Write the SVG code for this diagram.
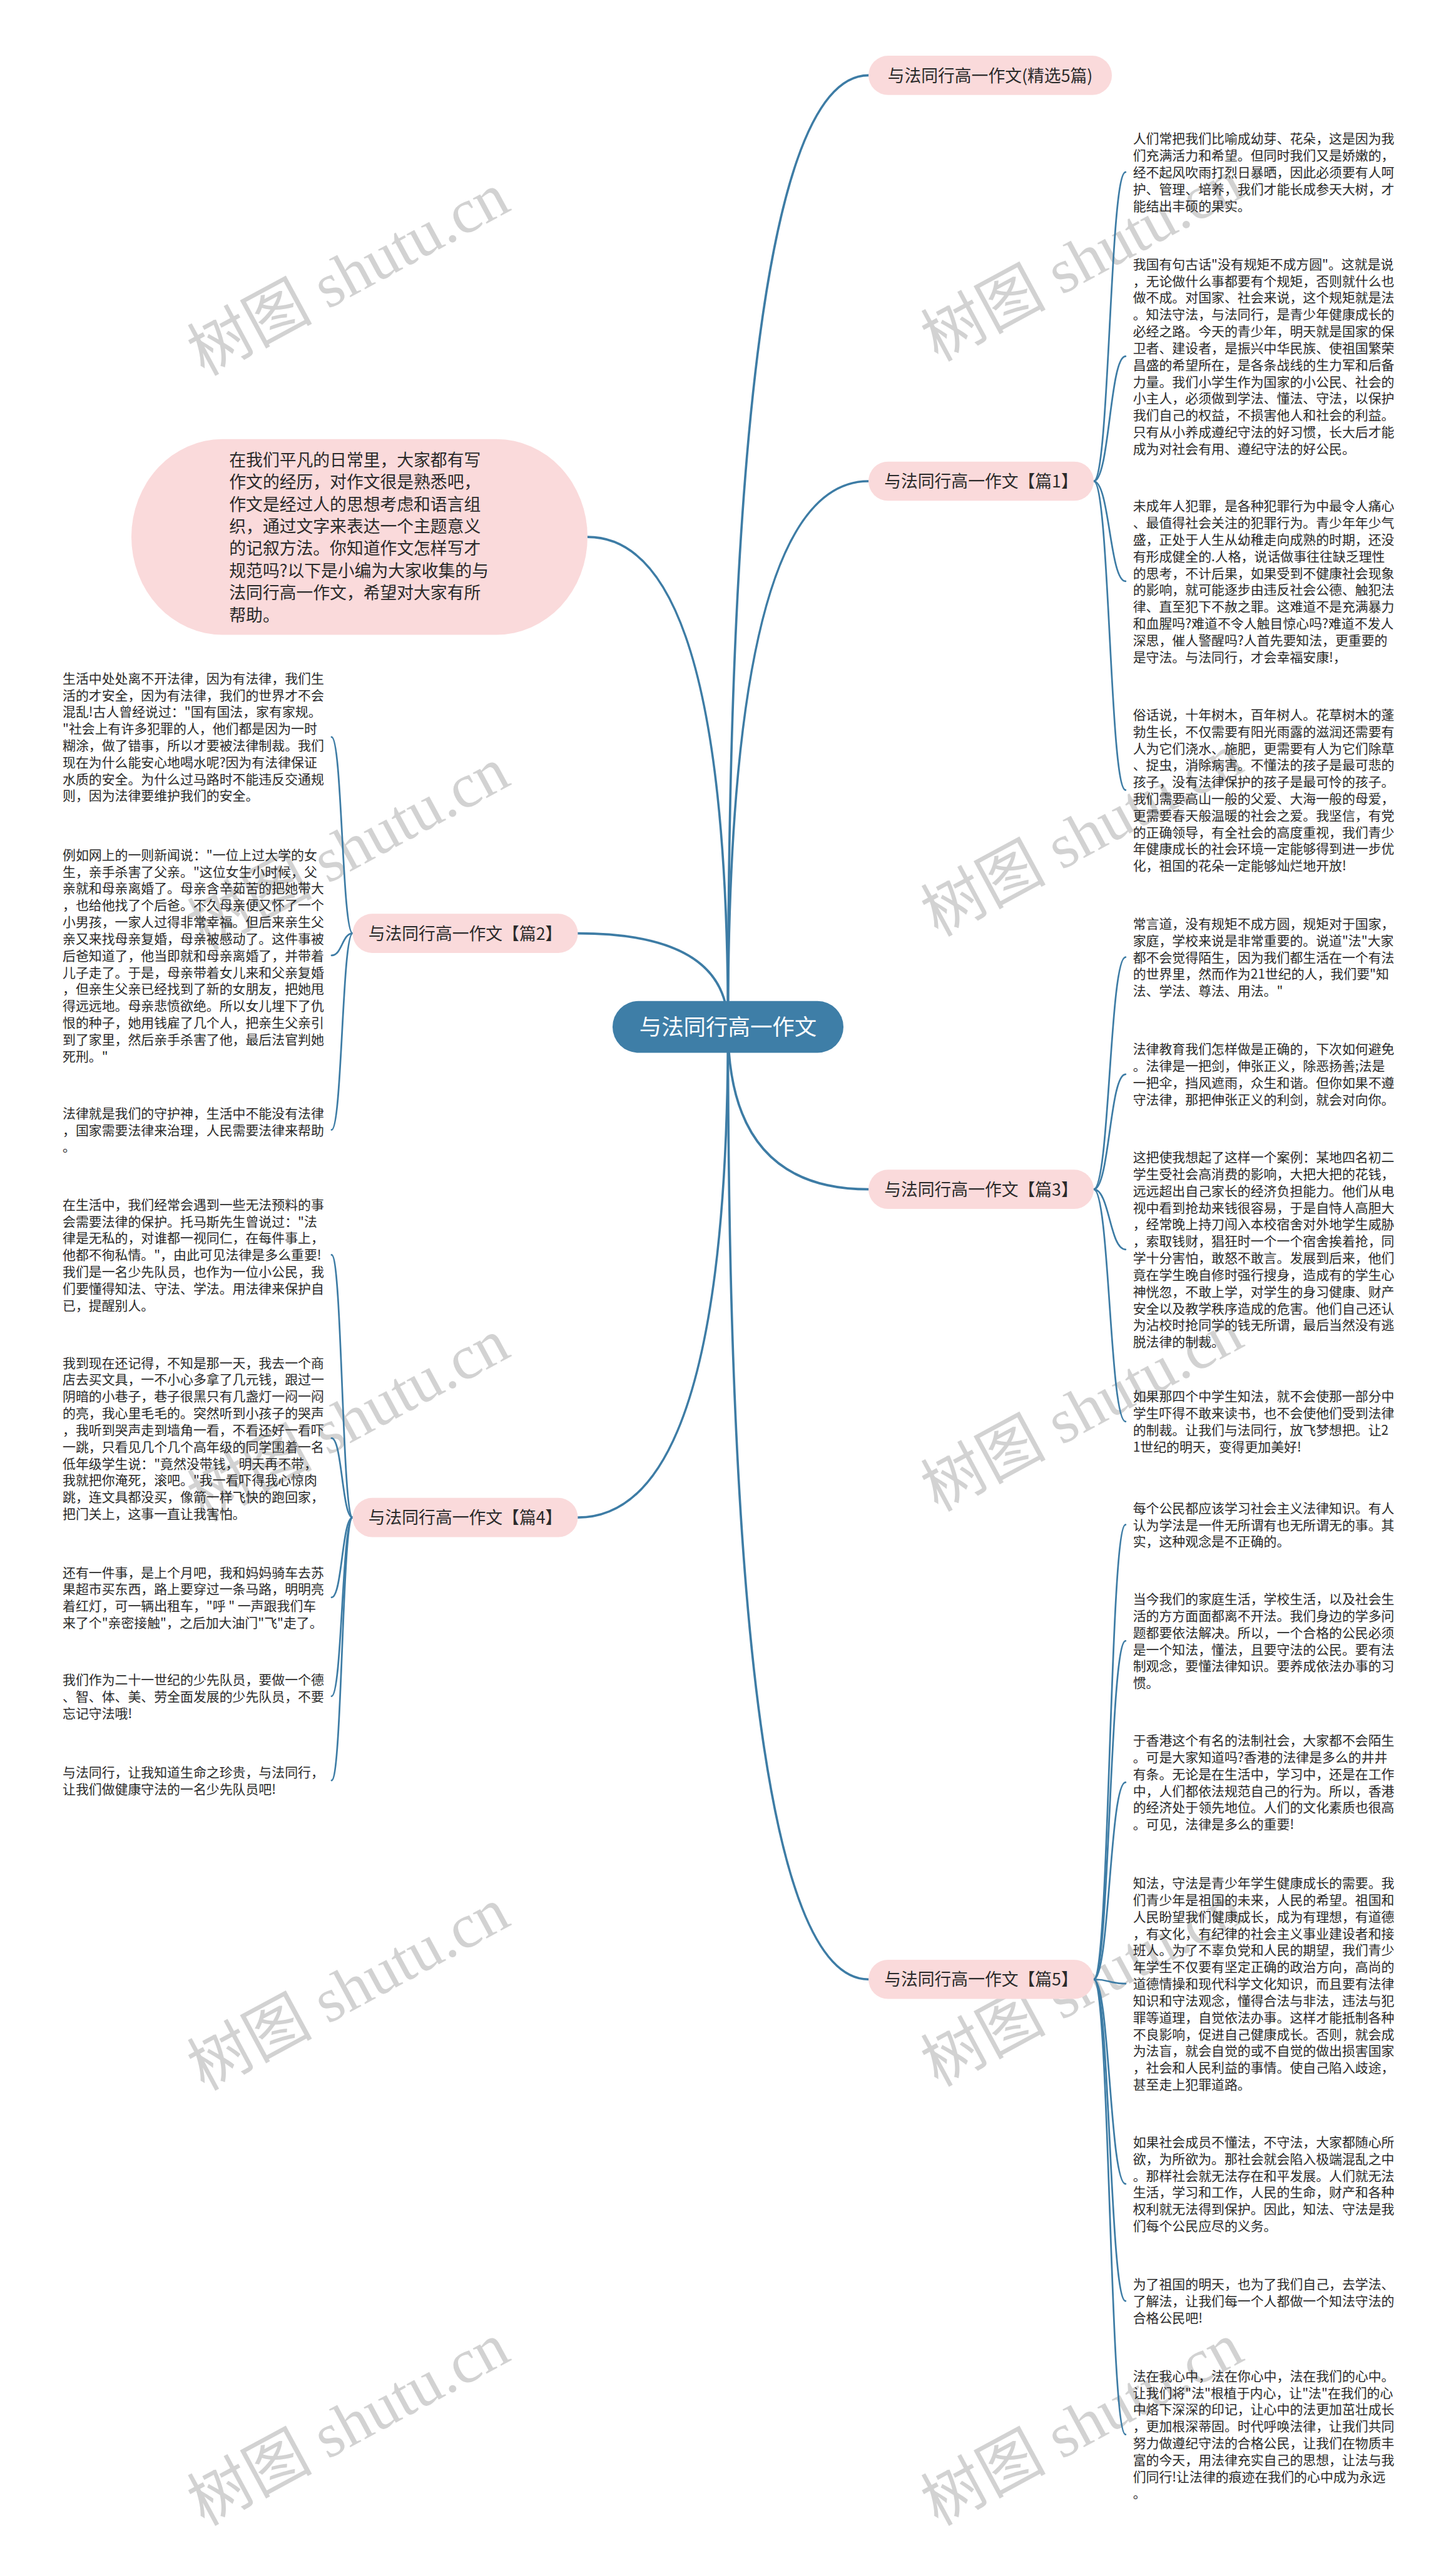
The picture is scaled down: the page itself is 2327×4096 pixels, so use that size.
<svg xmlns="http://www.w3.org/2000/svg" width="2327" height="4096" viewBox="0 0 2327 4096">
<defs>
<style>
.t{font-family:"Noto Sans CJK SC","Liberation Sans",sans-serif;font-size:23px;fill:#2a2a2a}
.lb{font-family:"Noto Sans CJK SC","Liberation Sans",sans-serif;font-size:29.5px;fill:#2a2a2a;text-anchor:middle}
.bt{font-family:"Noto Sans CJK SC","Liberation Sans",sans-serif;font-size:29.5px;fill:#2a2a2a}
.ct{font-family:"Noto Sans CJK SC","Liberation Sans",sans-serif;font-size:39px;fill:#ffffff;text-anchor:middle}
.pill{fill:#fadadb}
.root{stroke:#3d7ca5;stroke-width:4;fill:none;stroke-linecap:round}
.br{stroke:#3d7ca5;stroke-width:3;fill:none;stroke-linecap:round}
.wm{font-family:"Liberation Serif","Noto Sans CJK SC",serif;font-size:110px;fill:#d2d2d2;text-anchor:middle}
</style>
</defs>
<rect width="2327" height="4096" fill="#ffffff"/>
<g transform="scale(0.90898)">
<g id="watermarks">
<text class="wm" transform="translate(630,515) rotate(-28.4)">树图 shutu.cn</text>
<text class="wm" transform="translate(1920,490) rotate(-28.4)">树图 shutu.cn</text>
<text class="wm" transform="translate(630,1525) rotate(-28.4)">树图 shutu.cn</text>
<text class="wm" transform="translate(1920,1501) rotate(-28.4)">树图 shutu.cn</text>
<text class="wm" transform="translate(630,2530) rotate(-28.4)">树图 shutu.cn</text>
<text class="wm" transform="translate(1920,2512) rotate(-28.4)">树图 shutu.cn</text>
<text class="wm" transform="translate(630,3530) rotate(-28.4)">树图 shutu.cn</text>
<text class="wm" transform="translate(1920,3523) rotate(-28.4)">树图 shutu.cn</text>
<text class="wm" transform="translate(630,4295) rotate(-28.4)">树图 shutu.cn</text>
<text class="wm" transform="translate(1920,4295) rotate(-28.4)">树图 shutu.cn</text>
</g>
<g id="connectors">
<path class="root" d="M1280,1805 Q1280,132.5 1527,132.5"/>
<path class="root" d="M1280,1805 Q1280,846 1527,846"/>
<path class="root" d="M1280,1805 Q1280,2091 1527,2091"/>
<path class="root" d="M1280,1805 Q1280,3480 1527,3480"/>
<path class="root" d="M1280,1805 Q1280,944 1033,944"/>
<path class="root" d="M1280,1805 Q1280,1641 1016,1641"/>
<path class="root" d="M1280,1805 Q1280,2668 1016,2668"/>
<path class="br" d="M1923,846 C1951,846 1951,302.6 1979,302.6"/>
<path class="br" d="M1923,846 C1951,846 1951,626.5 1979,626.5"/>
<path class="br" d="M1923,846 C1951,846 1951,1022 1979,1022"/>
<path class="br" d="M1923,846 C1951,846 1951,1389 1979,1389"/>
<path class="br" d="M1923,2091 C1951,2091 1951,1682.8 1979,1682.8"/>
<path class="br" d="M1923,2091 C1951,2091 1951,1888.7 1979,1888.7"/>
<path class="br" d="M1923,2091 C1951,2091 1951,2196.8 1979,2196.8"/>
<path class="br" d="M1923,2091 C1951,2091 1951,2499.3 1979,2499.3"/>
<path class="br" d="M1923,3480 C1951,3480 1951,2680.7 1979,2680.7"/>
<path class="br" d="M1923,3480 C1951,3480 1951,2884.9 1979,2884.9"/>
<path class="br" d="M1923,3480 C1951,3480 1951,3133.6 1979,3133.6"/>
<path class="br" d="M1923,3480 C1951,3480 1951,3487.6 1979,3487.6"/>
<path class="br" d="M1923,3480 C1951,3480 1951,3839.7 1979,3839.7"/>
<path class="br" d="M1923,3480 C1951,3480 1951,4045.6 1979,4045.6"/>
<path class="br" d="M1923,3480 C1951,3480 1951,4280.3 1979,4280.3"/>
<path class="br" d="M620,1641 C601.5,1641 601.5,1295.7 583,1295.7"/>
<path class="br" d="M620,1641 C601.5,1641 601.5,1679.7 583,1679.7"/>
<path class="br" d="M620,1641 C601.5,1641 601.5,1986.5 583,1986.5"/>
<path class="br" d="M620,2668 C601.5,2668 601.5,2206.2 583,2206.2"/>
<path class="br" d="M620,2668 C601.5,2668 601.5,2528.6 583,2528.6"/>
<path class="br" d="M620,2668 C601.5,2668 601.5,2808.5 583,2808.5"/>
<path class="br" d="M620,2668 C601.5,2668 601.5,2982.3 583,2982.3"/>
<path class="br" d="M620,2668 C601.5,2668 601.5,3130.2 583,3130.2"/>
</g>
<g id="root">
<rect x="1077" y="1760" width="406" height="91" rx="45.5" fill="#3e7ea7"/>
<text class="ct" x="1280" y="1820">与法同行高一作文</text>
</g>
<g id="b0">
<rect class="pill" x="1527" y="98" width="428" height="69" rx="34.5"/>
<text class="lb" x="1741" y="143.7">与法同行高一作文(精选5篇)</text>
</g>
<g id="intro">
<rect class="pill" x="231" y="772" width="802" height="344" rx="160" ry="172"/>
<text class="bt" x="403" y="819.2"><tspan x="403">在我们平凡的日常里，大家都有写</tspan><tspan x="403" dy="39">作文的经历，对作文很是熟悉吧，</tspan><tspan x="403" dy="39">作文是经过人的思想考虑和语言组</tspan><tspan x="403" dy="39">织，通过文字来表达一个主题意义</tspan><tspan x="403" dy="39">的记叙方法。你知道作文怎样写才</tspan><tspan x="403" dy="39">规范吗?以下是小编为大家收集的与</tspan><tspan x="403" dy="39">法同行高一作文，希望对大家有所</tspan><tspan x="403" dy="39">帮助。</tspan></text>
</g>
<g id="b1">
<rect class="pill" x="1527" y="811.5" width="396" height="69" rx="34.5"/>
<text class="lb" x="1725" y="857.2">与法同行高一作文【篇1】</text>
</g>
<g id="b3">
<rect class="pill" x="1527" y="2056.5" width="396" height="69" rx="34.5"/>
<text class="lb" x="1725" y="2102.2">与法同行高一作文【篇3】</text>
</g>
<g id="b5">
<rect class="pill" x="1527" y="3445.5" width="396" height="69" rx="34.5"/>
<text class="lb" x="1725" y="3491.2">与法同行高一作文【篇5】</text>
</g>
<g id="b2">
<rect class="pill" x="620" y="1606.5" width="396" height="69" rx="34.5"/>
<text class="lb" x="818" y="1652.2">与法同行高一作文【篇2】</text>
</g>
<g id="b4">
<rect class="pill" x="620" y="2633.5" width="396" height="69" rx="34.5"/>
<text class="lb" x="818" y="2679.2">与法同行高一作文【篇4】</text>
</g>
<g id="r1"><text class="t" y="252.3"><tspan x="1992">人们常把我们比喻成幼芽、花朵，这是因为我</tspan><tspan x="1992" dy="29.5">们充满活力和希望。但同时我们又是娇嫩的，</tspan><tspan x="1992" dy="29.5">经不起风吹雨打烈日暴晒，因此必须要有人呵</tspan><tspan x="1992" dy="29.5">护、管理、培养，我们才能长成参天大树，才</tspan><tspan x="1992" dy="29.5">能结出丰硕的果实。</tspan></text></g>
<g id="r2"><text class="t" y="472.9"><tspan x="1992">我国有句古话"没有规矩不成方圆"。这就是说</tspan><tspan x="1992" dy="29.5">，无论做什么事都要有个规矩，否则就什么也</tspan><tspan x="1992" dy="29.5">做不成。对国家、社会来说，这个规矩就是法</tspan><tspan x="1992" dy="29.5">。知法守法，与法同行，是青少年健康成长的</tspan><tspan x="1992" dy="29.5">必经之路。今天的青少年，明天就是国家的保</tspan><tspan x="1992" dy="29.5">卫者、建设者，是振兴中华民族、使祖国繁荣</tspan><tspan x="1992" dy="29.5">昌盛的希望所在，是各条战线的生力军和后备</tspan><tspan x="1992" dy="29.5">力量。我们小学生作为国家的小公民、社会的</tspan><tspan x="1992" dy="29.5">小主人，必须做到学法、懂法、守法，以保护</tspan><tspan x="1992" dy="29.5">我们自己的权益，不损害他人和社会的利益。</tspan><tspan x="1992" dy="29.5">只有从小养成遵纪守法的好习惯，长大后才能</tspan><tspan x="1992" dy="29.5">成为对社会有用、遵纪守法的好公民。</tspan></text></g>
<g id="r3"><text class="t" y="898"><tspan x="1992">未成年人犯罪，是各种犯罪行为中最令人痛心</tspan><tspan x="1992" dy="29.5">、最值得社会关注的犯罪行为。青少年年少气</tspan><tspan x="1992" dy="29.5">盛，正处于人生从幼稚走向成熟的时期，还没</tspan><tspan x="1992" dy="29.5">有形成健全的.人格，说话做事往往缺乏理性</tspan><tspan x="1992" dy="29.5">的思考，不计后果，如果受到不健康社会现象</tspan><tspan x="1992" dy="29.5">的影响，就可能逐步由违反社会公德、触犯法</tspan><tspan x="1992" dy="29.5">律、直至犯下不赦之罪。这难道不是充满暴力</tspan><tspan x="1992" dy="29.5">和血腥吗?难道不令人触目惊心吗?难道不发人</tspan><tspan x="1992" dy="29.5">深思，催人警醒吗?人首先要知法，更重要的</tspan><tspan x="1992" dy="29.5">是守法。与法同行，才会幸福安康!，</tspan></text></g>
<g id="r4"><text class="t" y="1265.1"><tspan x="1992">俗话说，十年树木，百年树人。花草树木的蓬</tspan><tspan x="1992" dy="29.5">勃生长，不仅需要有阳光雨露的滋润还需要有</tspan><tspan x="1992" dy="29.5">人为它们浇水、施肥，更需要有人为它们除草</tspan><tspan x="1992" dy="29.5">、捉虫，消除病害。不懂法的孩子是最可悲的</tspan><tspan x="1992" dy="29.5">孩子，没有法律保护的孩子是最可怜的孩子。</tspan><tspan x="1992" dy="29.5">我们需要高山一般的父爱、大海一般的母爱，</tspan><tspan x="1992" dy="29.5">更需要春天般温暖的社会之爱。我坚信，有党</tspan><tspan x="1992" dy="29.5">的正确领导，有全社会的高度重视，我们青少</tspan><tspan x="1992" dy="29.5">年健康成长的社会环境一定能够得到进一步优</tspan><tspan x="1992" dy="29.5">化，祖国的花朵一定能够灿烂地开放!</tspan></text></g>
<g id="r5"><text class="t" y="1632.5"><tspan x="1992">常言道，没有规矩不成方圆，规矩对于国家，</tspan><tspan x="1992" dy="29.5">家庭，学校来说是非常重要的。说道"法"大家</tspan><tspan x="1992" dy="29.5">都不会觉得陌生，因为我们都生活在一个有法</tspan><tspan x="1992" dy="29.5">的世界里，然而作为21世纪的人，我们要"知</tspan><tspan x="1992" dy="29.5">法、学法、尊法、用法。"</tspan></text></g>
<g id="r6"><text class="t" y="1853.1"><tspan x="1992">法律教育我们怎样做是正确的，下次如何避免</tspan><tspan x="1992" dy="29.5">。法律是一把剑，伸张正义，除恶扬善;法是</tspan><tspan x="1992" dy="29.5">一把伞，挡风遮雨，众生和谐。但你如果不遵</tspan><tspan x="1992" dy="29.5">守法律，那把伸张正义的利剑，就会对向你。</tspan></text></g>
<g id="r7"><text class="t" y="2043.2"><tspan x="1992">这把使我想起了这样一个案例：某地四名初二</tspan><tspan x="1992" dy="29.5">学生受社会高消费的影响，大把大把的花钱，</tspan><tspan x="1992" dy="29.5">远远超出自己家长的经济负担能力。他们从电</tspan><tspan x="1992" dy="29.5">视中看到抢劫来钱很容易，于是自恃人高胆大</tspan><tspan x="1992" dy="29.5">，经常晚上持刀闯入本校宿舍对外地学生威胁</tspan><tspan x="1992" dy="29.5">，索取钱财，猖狂时一个一个宿舍挨着抢，同</tspan><tspan x="1992" dy="29.5">学十分害怕，敢怒不敢言。发展到后来，他们</tspan><tspan x="1992" dy="29.5">竟在学生晚自修时强行搜身，造成有的学生心</tspan><tspan x="1992" dy="29.5">神恍忽，不敢上学，对学生的身习健康、财产</tspan><tspan x="1992" dy="29.5">安全以及教学秩序造成的危害。他们自己还认</tspan><tspan x="1992" dy="29.5">为沾校时抢同学的钱无所谓，最后当然没有逃</tspan><tspan x="1992" dy="29.5">脱法律的制裁。</tspan></text></g>
<g id="r8"><text class="t" y="2463.7"><tspan x="1992">如果那四个中学生知法，就不会使那一部分中</tspan><tspan x="1992" dy="29.5">学生吓得不敢来读书，也不会使他们受到法律</tspan><tspan x="1992" dy="29.5">的制裁。让我们与法同行，放飞梦想把。让2</tspan><tspan x="1992" dy="29.5">1世纪的明天，变得更加美好!</tspan></text></g>
<g id="r9"><text class="t" y="2659.9"><tspan x="1992">每个公民都应该学习社会主义法律知识。有人</tspan><tspan x="1992" dy="29.5">认为学法是一件无所谓有也无所谓无的事。其</tspan><tspan x="1992" dy="29.5">实，这种观念是不正确的。</tspan></text></g>
<g id="r10"><text class="t" y="2819.8"><tspan x="1992">当今我们的家庭生活，学校生活，以及社会生</tspan><tspan x="1992" dy="29.5">活的方方面面都离不开法。我们身边的学多问</tspan><tspan x="1992" dy="29.5">题都要依法解决。所以，一个合格的公民必须</tspan><tspan x="1992" dy="29.5">是一个知法，懂法，且要守法的公民。要有法</tspan><tspan x="1992" dy="29.5">制观念，要懂法律知识。要养成依法办事的习</tspan><tspan x="1992" dy="29.5">惯。</tspan></text></g>
<g id="r11"><text class="t" y="3068.5"><tspan x="1992">于香港这个有名的法制社会，大家都不会陌生</tspan><tspan x="1992" dy="29.5">。可是大家知道吗?香港的法律是多么的井井</tspan><tspan x="1992" dy="29.5">有条。无论是在生活中，学习中，还是在工作</tspan><tspan x="1992" dy="29.5">中，人们都依法规范自己的行为。所以，香港</tspan><tspan x="1992" dy="29.5">的经济处于领先地位。人们的文化素质也很高</tspan><tspan x="1992" dy="29.5">。可见，法律是多么的重要!</tspan></text></g>
<g id="r12"><text class="t" y="3319.3"><tspan x="1992">知法，守法是青少年学生健康成长的需要。我</tspan><tspan x="1992" dy="29.5">们青少年是祖国的未来，人民的希望。祖国和</tspan><tspan x="1992" dy="29.5">人民盼望我们健康成长，成为有理想，有道德</tspan><tspan x="1992" dy="29.5">，有文化，有纪律的社会主义事业建设者和接</tspan><tspan x="1992" dy="29.5">班人。为了不辜负党和人民的期望，我们青少</tspan><tspan x="1992" dy="29.5">年学生不仅要有坚定正确的政治方向，高尚的</tspan><tspan x="1992" dy="29.5">道德情操和现代科学文化知识，而且要有法律</tspan><tspan x="1992" dy="29.5">知识和守法观念，懂得合法与非法，违法与犯</tspan><tspan x="1992" dy="29.5">罪等道理，自觉依法办事。这样才能抵制各种</tspan><tspan x="1992" dy="29.5">不良影响，促进自己健康成长。否则，就会成</tspan><tspan x="1992" dy="29.5">为法盲，就会自觉的或不自觉的做出损害国家</tspan><tspan x="1992" dy="29.5">，社会和人民利益的事情。使自己陷入歧途，</tspan><tspan x="1992" dy="29.5">甚至走上犯罪道路。</tspan></text></g>
<g id="r13"><text class="t" y="3774.6"><tspan x="1992">如果社会成员不懂法，不守法，大家都随心所</tspan><tspan x="1992" dy="29.5">欲，为所欲为。那社会就会陷入极端混乱之中</tspan><tspan x="1992" dy="29.5">。那样社会就无法存在和平发展。人们就无法</tspan><tspan x="1992" dy="29.5">生活，学习和工作，人民的生命，财产和各种</tspan><tspan x="1992" dy="29.5">权利就无法得到保护。因此，知法、守法是我</tspan><tspan x="1992" dy="29.5">们每个公民应尽的义务。</tspan></text></g>
<g id="r14"><text class="t" y="4024.8"><tspan x="1992">为了祖国的明天，也为了我们自己，去学法、</tspan><tspan x="1992" dy="29.5">了解法，让我们每一个人都做一个知法守法的</tspan><tspan x="1992" dy="29.5">合格公民吧!</tspan></text></g>
<g id="r15"><text class="t" y="4185.7"><tspan x="1992">法在我心中，法在你心中，法在我们的心中。</tspan><tspan x="1992" dy="29.5">让我们将"法"根植于内心，让"法"在我们的心</tspan><tspan x="1992" dy="29.5">中烙下深深的印记，让心中的法更加茁壮成长</tspan><tspan x="1992" dy="29.5">，更加根深蒂固。时代呼唤法律，让我们共同</tspan><tspan x="1992" dy="29.5">努力做遵纪守法的合格公民，让我们在物质丰</tspan><tspan x="1992" dy="29.5">富的今天，用法律充实自己的思想，让法与我</tspan><tspan x="1992" dy="29.5">们同行!让法律的痕迹在我们的心中成为永远</tspan><tspan x="1992" dy="29.5">。</tspan></text></g>
<g id="l1"><text class="t" y="1201.1"><tspan x="110">生活中处处离不开法律，因为有法律，我们生</tspan><tspan x="110" dy="29.5">活的才安全，因为有法律，我们的世界才不会</tspan><tspan x="110" dy="29.5">混乱!古人曾经说过："国有国法，家有家规。</tspan><tspan x="110" dy="29.5">"社会上有许多犯罪的人，他们都是因为一时</tspan><tspan x="110" dy="29.5">糊涂，做了错事，所以才要被法律制裁。我们</tspan><tspan x="110" dy="29.5">现在为什么能安心地喝水呢?因为有法律保证</tspan><tspan x="110" dy="29.5">水质的安全。为什么过马路时不能违反交通规</tspan><tspan x="110" dy="29.5">则，因为法律要维护我们的安全。</tspan></text></g>
<g id="l2"><text class="t" y="1511.4"><tspan x="110">例如网上的一则新闻说："一位上过大学的女</tspan><tspan x="110" dy="29.5">生，亲手杀害了父亲。"这位女生小时候，父</tspan><tspan x="110" dy="29.5">亲就和母亲离婚了。母亲含辛茹苦的把她带大</tspan><tspan x="110" dy="29.5">，也给他找了个后爸。不久母亲便又怀了一个</tspan><tspan x="110" dy="29.5">小男孩，一家人过得非常幸福。但后来亲生父</tspan><tspan x="110" dy="29.5">亲又来找母亲复婚，母亲被感动了。这件事被</tspan><tspan x="110" dy="29.5">后爸知道了，他当即就和母亲离婚了，并带着</tspan><tspan x="110" dy="29.5">儿子走了。于是，母亲带着女儿来和父亲复婚</tspan><tspan x="110" dy="29.5">，但亲生父亲已经找到了新的女朋友，把她甩</tspan><tspan x="110" dy="29.5">得远远地。母亲悲愤欲绝。所以女儿埋下了仇</tspan><tspan x="110" dy="29.5">恨的种子，她用钱雇了几个人，把亲生父亲引</tspan><tspan x="110" dy="29.5">到了家里，然后亲手杀害了他，最后法官判她</tspan><tspan x="110" dy="29.5">死刑。"</tspan></text></g>
<g id="l3"><text class="t" y="1965.7"><tspan x="110">法律就是我们的守护神，生活中不能没有法律</tspan><tspan x="110" dy="29.5">，国家需要法律来治理，人民需要法律来帮助</tspan><tspan x="110" dy="29.5">。</tspan></text></g>
<g id="l4"><text class="t" y="2126.4"><tspan x="110">在生活中，我们经常会遇到一些无法预料的事</tspan><tspan x="110" dy="29.5">会需要法律的保护。托马斯先生曾说过："法</tspan><tspan x="110" dy="29.5">律是无私的，对谁都一视同仁，在每件事上，</tspan><tspan x="110" dy="29.5">他都不徇私情。"，由此可见法律是多么重要!</tspan><tspan x="110" dy="29.5">我们是一名少先队员，也作为一位小公民，我</tspan><tspan x="110" dy="29.5">们要懂得知法、守法、学法。用法律来保护自</tspan><tspan x="110" dy="29.5">已，提醒别人。</tspan></text></g>
<g id="l5"><text class="t" y="2404.5"><tspan x="110">我到现在还记得，不知是那一天，我去一个商</tspan><tspan x="110" dy="29.5">店去买文具，一不小心多拿了几元钱，跟过一</tspan><tspan x="110" dy="29.5">阴暗的小巷子，巷子很黑只有几盏灯一闷一闷</tspan><tspan x="110" dy="29.5">的亮，我心里毛毛的。突然听到小孩子的哭声</tspan><tspan x="110" dy="29.5">，我听到哭声走到墙角一看，不看还好一看吓</tspan><tspan x="110" dy="29.5">一跳，只看见几个几个高年级的同学围着一名</tspan><tspan x="110" dy="29.5">低年级学生说："竟然没带钱，明天再不带，</tspan><tspan x="110" dy="29.5">我就把你淹死，滚吧。"我一看吓得我心惊肉</tspan><tspan x="110" dy="29.5">跳，连文具都没买，像箭一样飞快的跑回家，</tspan><tspan x="110" dy="29.5">把门关上，这事一直让我害怕。</tspan></text></g>
<g id="l6"><text class="t" y="2772.9"><tspan x="110">还有一件事，是上个月吧，我和妈妈骑车去苏</tspan><tspan x="110" dy="29.5">果超市买东西，路上要穿过一条马路，明明亮</tspan><tspan x="110" dy="29.5">着红灯，可一辆出租车，"呼 " 一声跟我们车</tspan><tspan x="110" dy="29.5">来了个"亲密接触"，之后加大油门"飞"走了。</tspan></text></g>
<g id="l7"><text class="t" y="2961.5"><tspan x="110">我们作为二十一世纪的少先队员，要做一个德</tspan><tspan x="110" dy="29.5">、智、体、美、劳全面发展的少先队员，不要</tspan><tspan x="110" dy="29.5">忘记守法哦!</tspan></text></g>
<g id="l8"><text class="t" y="3124.1"><tspan x="110">与法同行，让我知道生命之珍贵，与法同行，</tspan><tspan x="110" dy="29.5">让我们做健康守法的一名少先队员吧!</tspan></text></g>
</g>
</svg>
